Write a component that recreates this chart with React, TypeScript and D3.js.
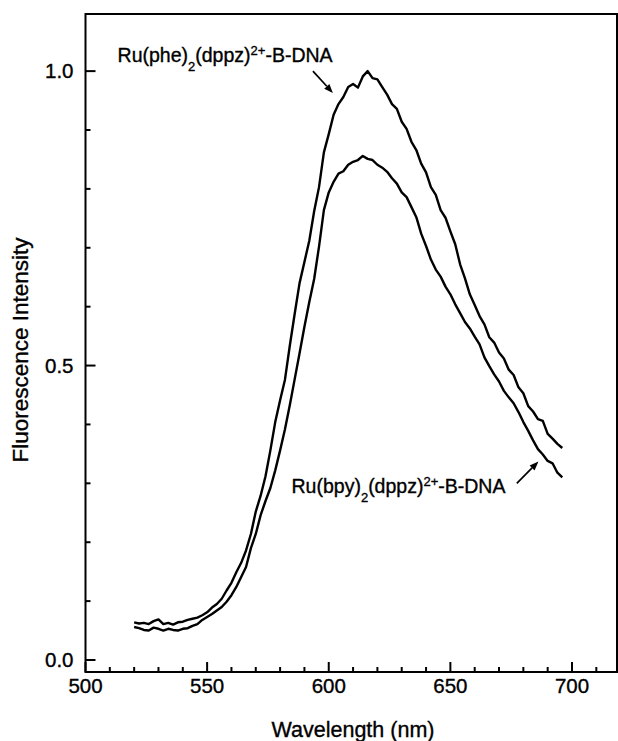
import React from "react";
import * as d3 from "d3";

// ---- data ----
const wavelengthNm = [
  520, 522, 524, 526, 528, 530, 532, 534, 536, 538, 540, 542, 544, 546, 548, 550,
  552, 554, 556, 558, 560, 562, 564, 566, 568, 570, 572, 574, 576, 578, 580, 582,
  584, 586, 588, 590, 592, 594, 596, 598, 600, 602, 604, 606, 608, 610, 612, 614,
  616, 618, 620, 622, 624, 626, 628, 630, 632, 634, 636, 638, 640, 642, 644, 646,
  648, 650, 652, 654, 656, 658, 660, 662, 664, 666, 668, 670, 672, 674, 676, 678,
  680, 682, 684, 686, 688, 690, 692, 694, 696,
];

const phePhen = [
  0.064, 0.062, 0.063, 0.061, 0.066, 0.069, 0.061, 0.063, 0.06, 0.064, 0.065, 0.068, 0.07, 0.072, 0.076, 0.081,
  0.089, 0.095, 0.104, 0.118, 0.131, 0.149, 0.165, 0.186, 0.214, 0.252, 0.279, 0.312, 0.356, 0.404, 0.441, 0.476,
  0.534, 0.588, 0.64, 0.676, 0.712, 0.762, 0.803, 0.862, 0.893, 0.926, 0.944, 0.956, 0.973, 0.978, 0.972, 0.991,
  1.0, 0.988, 0.986, 0.973, 0.96, 0.944, 0.936, 0.914, 0.902, 0.88, 0.866, 0.843, 0.828, 0.803, 0.79, 0.764,
  0.751, 0.728, 0.706, 0.672, 0.648, 0.621, 0.603, 0.584, 0.57, 0.548, 0.539, 0.522, 0.512, 0.493, 0.484, 0.463,
  0.453, 0.431, 0.422, 0.409, 0.406, 0.384, 0.376, 0.367, 0.36,
];

const bpyBpy = [
  0.056, 0.054, 0.051, 0.05, 0.055, 0.053, 0.05, 0.053, 0.051, 0.05, 0.053, 0.054, 0.058, 0.061, 0.068, 0.073,
  0.078, 0.084, 0.09, 0.099, 0.11, 0.124, 0.141, 0.158, 0.19, 0.214, 0.246, 0.27, 0.292, 0.322, 0.356, 0.392,
  0.433, 0.477, 0.521, 0.566, 0.608, 0.647, 0.702, 0.764, 0.794, 0.812, 0.826, 0.83, 0.841, 0.846, 0.849, 0.856,
  0.851, 0.849, 0.841, 0.836, 0.829, 0.818, 0.809, 0.794, 0.786, 0.769, 0.752, 0.724, 0.703, 0.68, 0.663, 0.651,
  0.634, 0.621, 0.604, 0.589, 0.574, 0.563, 0.549, 0.536, 0.514, 0.499, 0.485, 0.473, 0.457, 0.446, 0.436, 0.421,
  0.404, 0.389, 0.373, 0.358, 0.349, 0.338, 0.334, 0.318, 0.31,
];

const xMajorTicks = [500, 550, 600, 650, 700];
const xMinorTicks = [510, 520, 530, 540, 560, 570, 580, 590, 610, 620, 630, 640, 660, 670, 680, 690, 710];
const yMajorTicks = [0.0, 0.5, 1.0];
const yMinorTicks = [0.1, 0.2, 0.3, 0.4, 0.6, 0.7, 0.8, 0.9];

const xTitle = "Wavelength (nm)";
const yTitle = "Fluorescence Intensity";

// ---- layout ----
const W = 618;
const H = 741;
const left = 85.5;
const right = 617;
const top = 14;
const bottom = 672;
const FONT = "'Liberation Sans', Arial, Helvetica, sans-serif";
const TXT = { fontFamily: FONT, fill: "#000", stroke: "#000", strokeWidth: 0.35 };

export default function App() {
  const x = d3.scaleLinear().domain([500, 718.5]).range([left, right]);
  const y = d3.scaleLinear().domain([-0.0204, 1.097]).range([bottom, top]);

  const line = d3
    .line<number>()
    .x((_, i) => x(wavelengthNm[i]))
    .y((d) => y(d));

  const tickLabelSize = 20.5;

  const Label = ({ name, lx, ly }: { name: string; lx: number; ly: number }) => (
    <text x={x(lx)} y={y(ly)} {...TXT} fontSize={19.5}>
      {`Ru(${name})`}
      <tspan fontSize={13} dy={9}>2</tspan>
      <tspan dy={-9}>(dppz)</tspan>
      <tspan fontSize={13} dy={-7}>2+</tspan>
      <tspan dy={7}>-B-DNA</tspan>
    </text>
  );

  const Arrow = ({ x1, y1, x2, y2 }: { x1: number; y1: number; x2: number; y2: number }) => {
    const ax1 = x(x1), ay1 = y(y1), ax2 = x(x2), ay2 = y(y2);
    const ang = Math.atan2(ay2 - ay1, ax2 - ax1);
    const L = 9, Wd = 3.5;
    const bx = ax2 - L * Math.cos(ang), by = ay2 - L * Math.sin(ang);
    const p1 = [bx + Wd * Math.sin(ang), by - Wd * Math.cos(ang)];
    const p2 = [bx - Wd * Math.sin(ang), by + Wd * Math.cos(ang)];
    return (
      <g>
        <line x1={ax1} y1={ay1} x2={bx} y2={by} stroke="#000" strokeWidth={1.7} />
        <path d={`M${ax2},${ay2}L${p1[0]},${p1[1]}L${p2[0]},${p2[1]}Z`} fill="#000" />
      </g>
    );
  };

  return (
    <svg
      width={W}
      height={H}
      style={{ position: "absolute", left: 0, top: 0, background: "#fff" }}
    >
      <rect x={0} y={0} width={W} height={H} fill="#fff" />
      {/* frame */}
      <rect x={left} y={top} width={right - left} height={bottom - top} fill="none" stroke="#000" strokeWidth={2} />

      {/* x ticks */}
      {xMajorTicks.map((t) => (
        <g key={"xM" + t}>
          <line x1={x(t)} x2={x(t)} y1={bottom} y2={bottom - 10} stroke="#000" strokeWidth={2} />
          <text x={x(t)} y={bottom + 21} {...TXT} fontSize={tickLabelSize} textAnchor="middle">
            {t}
          </text>
        </g>
      ))}
      {xMinorTicks.map((t) => (
        <line key={"xm" + t} x1={x(t)} x2={x(t)} y1={bottom} y2={bottom - 5} stroke="#000" strokeWidth={2} />
      ))}

      {/* y ticks */}
      {yMajorTicks.map((t) => (
        <g key={"yM" + t}>
          <line x1={left} x2={left + 10} y1={y(t)} y2={y(t)} stroke="#000" strokeWidth={2} />
          <text x={left - 12} y={y(t) + 7} {...TXT} fontSize={tickLabelSize} textAnchor="end">
            {t.toFixed(1)}
          </text>
        </g>
      ))}
      {yMinorTicks.map((t) => (
        <line key={"ym" + t} x1={left} x2={left + 5} y1={y(t)} y2={y(t)} stroke="#000" strokeWidth={2} />
      ))}

      {/* curves */}
      <path d={line(phePhen) || ""} fill="none" stroke="#000" strokeWidth={2.4} strokeLinejoin="round" />
      <path d={line(bpyBpy) || ""} fill="none" stroke="#000" strokeWidth={2.4} strokeLinejoin="round" />

      {/* annotations */}
      <Label name="phe" lx={513.2} ly={1.015} />
      <Arrow x1={593.5} y1={1.0} x2={601.7} y2={0.963} />
      <Label name="bpy" lx={584.7} ly={0.2835} />
      <Arrow x1={677.3} y1={0.3} x2={686.2} y2={0.337} />

      {/* axis titles */}
      <text x={353} y={737} {...TXT} fontSize={21.5} textAnchor="middle">
        {xTitle}
      </text>
      <text
        transform={`translate(28, ${350}) rotate(-90)`}
        {...TXT}
        fontSize={22.5}
        textAnchor="middle"
      >
        {yTitle}
      </text>
    </svg>
  );
}
